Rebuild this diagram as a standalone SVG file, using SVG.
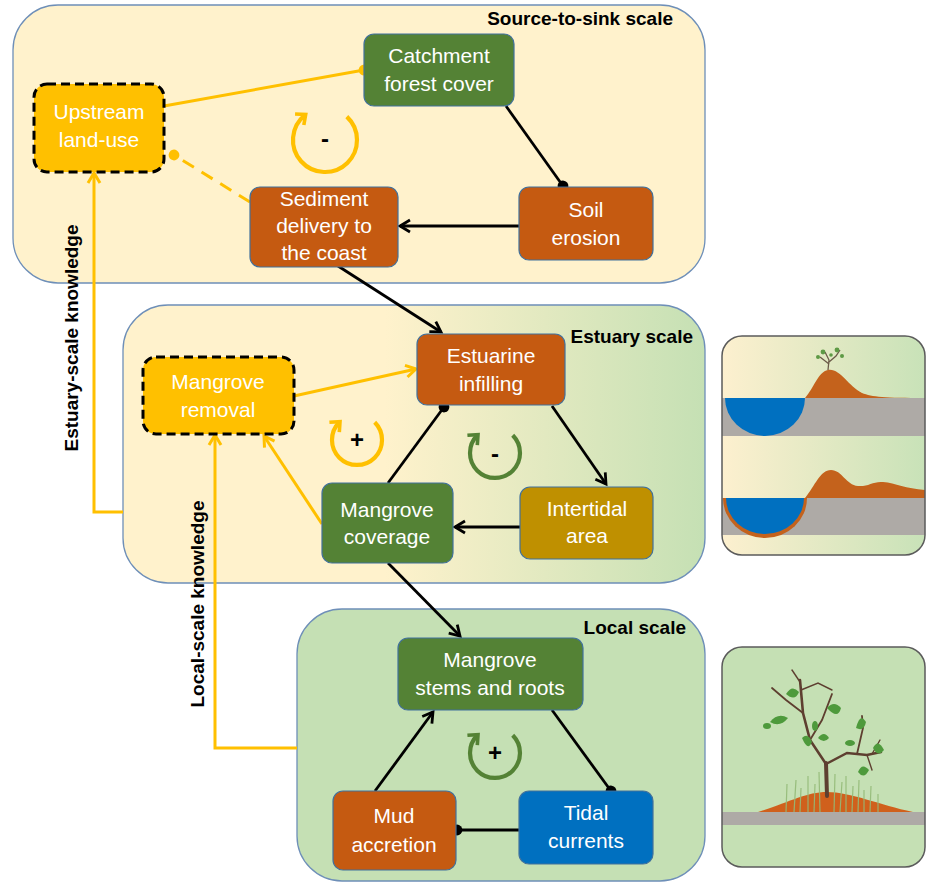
<svg xmlns="http://www.w3.org/2000/svg" width="926" height="884" viewBox="0 0 926 884">
  <defs>
    <style>
      .panel { stroke: #6E8FB8; stroke-width: 1.3; }
      .node { stroke: #41719C; stroke-width: 1.2; }
      .choice { fill: #FFC000; stroke: #000; stroke-width: 3; stroke-dasharray: 9 5; }
      .lbl { font-family: "Liberation Sans", Arial, sans-serif; font-size: 21px; fill: #fff; text-anchor: middle; }
      .ttl { font-family: "Liberation Sans", Arial, sans-serif; font-size: 19px; font-weight: bold; fill: #000; text-anchor: end; }
      .side { font-family: "Liberation Sans", Arial, sans-serif; font-size: 19px; font-weight: bold; fill: #000; text-anchor: middle; }
      .sign { font-family: "Liberation Sans", Arial, sans-serif; font-size: 24px; font-weight: bold; fill: #000; text-anchor: middle; }
      .blk { stroke: #000; stroke-width: 2.8; fill: none; }
      .yel { stroke: #FFC000; stroke-width: 3; fill: none; }
      .loopY { stroke: #FFC000; stroke-width: 4.2; fill: none; marker-end: url(#loopHeadY); }
      .loopG { stroke: #548235; stroke-width: 4.2; fill: none; marker-end: url(#loopHeadG); }
    </style>
    <marker id="arrowK" markerUnits="userSpaceOnUse" markerWidth="16" markerHeight="16" refX="11" refY="7" orient="auto" overflow="visible">
      <path d="M1,1 L11,7 L1,13" fill="none" stroke="#000" stroke-width="2.8"/>
    </marker>
    <marker id="arrowY" markerUnits="userSpaceOnUse" markerWidth="16" markerHeight="16" refX="11" refY="7" orient="auto" overflow="visible">
      <path d="M1,1 L11,7 L1,13" fill="none" stroke="#FFC000" stroke-width="3"/>
    </marker>
    <marker id="dotK" markerUnits="userSpaceOnUse" markerWidth="12" markerHeight="12" refX="6" refY="6" orient="auto" overflow="visible">
      <circle cx="6" cy="6" r="5.4" fill="#000"/>
    </marker>
    <marker id="dotY" markerUnits="userSpaceOnUse" markerWidth="12" markerHeight="12" refX="6" refY="6" orient="auto" overflow="visible">
      <circle cx="6" cy="6" r="5.4" fill="#FFC000"/>
    </marker>
    <marker id="loopHeadY" markerUnits="userSpaceOnUse" markerWidth="16" markerHeight="16" refX="8" refY="7" orient="auto" overflow="visible">
      <path d="M1,0 L9,7 L1,14" fill="none" stroke="#FFC000" stroke-width="3.6"/>
    </marker>
    <marker id="loopHeadG" markerUnits="userSpaceOnUse" markerWidth="16" markerHeight="16" refX="8" refY="7" orient="auto" overflow="visible">
      <path d="M1,0 L9,7 L1,14" fill="none" stroke="#548235" stroke-width="3.6"/>
    </marker>
    <linearGradient id="estuaryFill" x1="0" y1="0" x2="1" y2="0">
      <stop offset="0" stop-color="#FFF2CC"/>
      <stop offset="0.45" stop-color="#FFF2CC"/>
      <stop offset="1" stop-color="#C5E0B4"/>
    </linearGradient>
    <linearGradient id="sketchFill" x1="0" y1="0" x2="1" y2="0">
      <stop offset="0" stop-color="#FDF0CF"/>
      <stop offset="1" stop-color="#C8E2B8"/>
    </linearGradient>
  </defs>

  <!-- scale panels -->
  <g id="panel-source">
    <rect class="panel" x="13" y="5" width="692" height="278" rx="45" fill="#FFF2CC"/>
    <text class="ttl" x="673" y="25">Source-to-sink scale</text>
  </g>
  <g id="panel-estuary">
    <rect class="panel" x="123" y="305" width="582" height="278" rx="45" fill="url(#estuaryFill)"/>
    <text class="ttl" x="693" y="343">Estuary scale</text>
  </g>
  <g id="panel-local">
    <rect class="panel" x="297" y="609" width="408" height="272" rx="45" fill="#C5E0B4"/>
    <text class="ttl" x="686" y="634">Local scale</text>
  </g>

  <!-- connectors -->
  <g id="connectors">
    <line class="yel" x1="164" y1="106" x2="364" y2="70" marker-end="url(#dotY)"/>
    <line class="yel" x1="250" y1="202" x2="174" y2="155" stroke-dasharray="13 9" marker-end="url(#dotY)"/>
    <line class="blk" x1="506" y1="106" x2="563" y2="186" marker-end="url(#dotK)"/>
    <line class="blk" x1="519" y1="226" x2="400" y2="226" marker-end="url(#arrowK)"/>
    <line class="blk" x1="338" y1="266" x2="441" y2="332" marker-end="url(#arrowK)"/>

    <line class="yel" x1="294" y1="396" x2="416" y2="369" marker-end="url(#arrowY)"/>
    <line class="yel" x1="322" y1="524" x2="264" y2="436" marker-end="url(#arrowY)"/>
    <line class="blk" x1="388" y1="483" x2="444" y2="407" marker-end="url(#dotK)"/>
    <line class="blk" x1="552" y1="406" x2="606" y2="484" marker-end="url(#arrowK)"/>
    <line class="blk" x1="520" y1="527" x2="455" y2="527" marker-end="url(#arrowK)"/>
    <line class="blk" x1="388" y1="563" x2="460" y2="636" marker-end="url(#arrowK)"/>

    <line class="blk" x1="375" y1="791" x2="433" y2="712" marker-end="url(#arrowK)"/>
    <line class="blk" x1="552" y1="710" x2="611" y2="791" marker-end="url(#dotK)"/>
    <line class="blk" x1="519" y1="830" x2="457" y2="830" marker-end="url(#dotK)"/>

    <polyline class="yel" points="123,512 94,512 94,173" marker-end="url(#arrowY)"/>
    <polyline class="yel" points="297,748 215,748 215,435" marker-end="url(#arrowY)"/>
  </g>

  <!-- feedback loops -->
  <g id="loop-catchment">
    <path class="loopY" d="M346.8,116.6 A32,32 0 1 1 304.9,115.1"/>
    <text class="sign" x="325" y="147">-</text>
  </g>
  <g id="loop-removal">
    <path class="loopY" d="M374.7,422.3 A25,25 0 1 1 339.3,422.3"/>
    <text class="sign" x="357" y="448" font-size="22">+</text>
  </g>
  <g id="loop-infilling">
    <path class="loopG" d="M512.7,435.3 A25,25 0 1 1 477.3,435.3"/>
    <text class="sign" x="495" y="462">-</text>
  </g>
  <g id="loop-local">
    <path class="loopG" d="M512.7,735.3 A25,25 0 1 1 477.3,735.3"/>
    <text class="sign" x="495" y="761" font-size="22">+</text>
  </g>

  <!-- side labels -->
  <g id="label-estuary-knowledge">
    <text class="side" transform="translate(78,338) rotate(-90)">Estuary-scale knowledge</text>
  </g>
  <g id="label-local-knowledge">
    <text class="side" transform="translate(204,604) rotate(-90)">Local-scale knowledge</text>
  </g>

  <!-- nodes: source-to-sink -->
  <g id="node-upstream">
    <rect class="choice" x="34" y="84" width="130" height="88" rx="13"/>
    <text class="lbl" x="99" y="119">Upstream</text>
    <text class="lbl" x="99" y="147">land-use</text>
  </g>
  <g id="node-catchment">
    <rect class="node" x="364" y="34" width="150" height="72" rx="10" fill="#548235"/>
    <text class="lbl" x="439" y="63">Catchment</text>
    <text class="lbl" x="439" y="91">forest cover</text>
  </g>
  <g id="node-sediment">
    <rect class="node" x="250" y="187" width="148" height="80" rx="10" fill="#C55A11"/>
    <text class="lbl" x="324" y="206">Sediment</text>
    <text class="lbl" x="324" y="233">delivery to</text>
    <text class="lbl" x="324" y="260">the coast</text>
  </g>
  <g id="node-soil">
    <rect class="node" x="519" y="187" width="134" height="73" rx="10" fill="#C55A11"/>
    <text class="lbl" x="586" y="217">Soil</text>
    <text class="lbl" x="586" y="245">erosion</text>
  </g>

  <!-- nodes: estuary -->
  <g id="node-removal">
    <rect class="choice" x="143" y="357" width="151" height="77" rx="13"/>
    <text class="lbl" x="218" y="389">Mangrove</text>
    <text class="lbl" x="218" y="417">removal</text>
  </g>
  <g id="node-infilling">
    <rect class="node" x="417" y="334" width="148" height="71" rx="10" fill="#C55A11"/>
    <text class="lbl" x="491" y="363">Estuarine</text>
    <text class="lbl" x="491" y="391">infilling</text>
  </g>
  <g id="node-coverage">
    <rect class="node" x="322" y="483" width="131" height="80" rx="10" fill="#548235"/>
    <text class="lbl" x="387" y="517">Mangrove</text>
    <text class="lbl" x="387" y="544">coverage</text>
  </g>
  <g id="node-intertidal">
    <rect class="node" x="520" y="487" width="133" height="72" rx="10" fill="#BF9000"/>
    <text class="lbl" x="587" y="516">Intertidal</text>
    <text class="lbl" x="587" y="543">area</text>
  </g>

  <!-- nodes: local -->
  <g id="node-stems">
    <rect class="node" x="398" y="638" width="185" height="72" rx="10" fill="#548235"/>
    <text class="lbl" x="490" y="667">Mangrove</text>
    <text class="lbl" x="490" y="695">stems and roots</text>
  </g>
  <g id="node-mud">
    <rect class="node" x="333" y="791" width="123" height="79" rx="10" fill="#C55A11"/>
    <text class="lbl" x="394" y="823">Mud</text>
    <text class="lbl" x="394" y="852">accretion</text>
  </g>
  <g id="node-tidal">
    <rect class="node" x="519" y="791" width="134" height="73" rx="10" fill="#0070C0"/>
    <text class="lbl" x="586" y="820">Tidal</text>
    <text class="lbl" x="586" y="848">currents</text>
  </g>

  <!-- estuary sketch: channel before and after infilling -->
  <g id="sketch-estuary">
    <clipPath id="clipEst"><rect x="722" y="336" width="203" height="219" rx="20"/></clipPath>
    <rect x="722" y="336" width="203" height="219" rx="20" fill="url(#sketchFill)"/>
    <g clip-path="url(#clipEst)">
      <rect x="722" y="398" width="204" height="38" fill="#AEAAA6"/>
      <path d="M725,398 A40,38 0 0 0 805,398 Z" fill="#0070C0"/>
      <path d="M805,398 C814,388 818,372 828,370 C840,368 848,386 862,393 C872,397 885,398 926,398 Z" fill="#C4621C"/>
      <g stroke="#6B5A48" stroke-width="1.3" fill="none">
        <path d="M828,370 L829,360 L825,352"/>
        <path d="M829,362 L836,356 L840,350"/>
        <path d="M829,364 L820,357"/>
      </g>
      <g fill="#5E9A45">
        <circle cx="823" cy="352" r="2.4"/>
        <circle cx="837" cy="350" r="2.4"/>
        <circle cx="842" cy="356" r="2"/>
        <circle cx="818" cy="357" r="2"/>
        <circle cx="831" cy="355" r="1.8"/>
      </g>
      <rect x="722" y="498" width="204" height="37" fill="#AEAAA6"/>
      <path d="M723,498 A42,40 0 0 0 807,498 Z" fill="#C4621C"/>
      <path d="M726,498 A39,36 0 0 0 804,498 Z" fill="#0070C0"/>
      <path d="M805,498 C815,486 820,470 831,470 C842,470 846,485 858,486 C868,487 873,481 883,482 C896,483 906,489 926,490 L926,498 Z" fill="#C4621C"/>
    </g>
    <rect x="722" y="336" width="203" height="219" rx="20" fill="none" stroke="#5B5B5B" stroke-width="1.5"/>
  </g>

  <!-- local sketch: young mangrove on a mud mound -->
  <g id="sketch-local">
    <clipPath id="clipLoc"><rect x="722" y="647" width="203" height="220" rx="20"/></clipPath>
    <rect x="722" y="647" width="203" height="220" rx="20" fill="#C5E0B4"/>
    <g clip-path="url(#clipLoc)">
      <rect x="722" y="812" width="204" height="13" fill="#AEAAA6"/>
      <path d="M758,812 C790,802 806,792 827,792 C850,792 880,805 913,812 Z" fill="#D0601C"/>
      <g stroke="#94BA78" stroke-width="1.2" opacity="0.9">
        <line x1="786" y1="812" x2="787" y2="784"/>
        <line x1="794" y1="812" x2="796" y2="780"/>
        <line x1="800" y1="812" x2="801" y2="788"/>
        <line x1="808" y1="812" x2="808" y2="776"/>
        <line x1="814" y1="812" x2="815" y2="784"/>
        <line x1="820" y1="812" x2="819" y2="772"/>
        <line x1="834" y1="812" x2="835" y2="774"/>
        <line x1="840" y1="812" x2="842" y2="782"/>
        <line x1="846" y1="812" x2="846" y2="776"/>
        <line x1="852" y1="812" x2="853" y2="786"/>
        <line x1="858" y1="812" x2="859" y2="780"/>
        <line x1="864" y1="812" x2="864" y2="790"/>
        <line x1="870" y1="812" x2="871" y2="786"/>
        <line x1="878" y1="812" x2="878" y2="794"/>
      </g>
      <g stroke="#5E3F30" fill="none" stroke-linecap="round">
        <path d="M827,796 L826,763" stroke-width="4"/>
        <path d="M826,764 L810,740 L803,713 L800,680" stroke-width="2.6"/>
        <path d="M803,713 L786,700 L772,688" stroke-width="1.8"/>
        <path d="M810,740 L822,720 L832,694" stroke-width="1.8"/>
        <path d="M826,764 L847,753 L867,755 L881,752" stroke-width="2.4"/>
        <path d="M857,754 L863,728 L862,716" stroke-width="1.8"/>
        <path d="M800,682 L792,670" stroke-width="1.4"/>
        <path d="M801,690 L818,683 L832,690" stroke-width="1.4"/>
        <path d="M867,755 L872,770" stroke-width="1.4"/>
        <path d="M872,754 L880,740" stroke-width="1.4"/>
      </g>
      <g fill="#4E9A3C">
        <path d="M786,694 Q792,684 799,692 Q795,702 786,694 Z"/>
        <path d="M770,722 Q778,712 788,718 Q780,728 770,722 Z"/>
        <ellipse cx="767" cy="726" rx="4" ry="3"/>
        <path d="M802,738 Q808,732 812,742 Q808,752 802,738 Z"/>
        <path d="M818,738 Q824,730 829,738 Q824,744 818,738 Z"/>
        <path d="M827,708 Q834,700 841,708 Q838,720 827,708 Z"/>
        <path d="M856,728 Q860,712 866,722 Q864,732 856,728 Z"/>
        <path d="M873,748 Q878,738 884,750 Q878,758 873,748 Z"/>
        <path d="M858,772 Q862,762 869,770 Q864,780 858,772 Z"/>
        <ellipse cx="850" cy="743" rx="5" ry="3"/>
        <ellipse cx="815" cy="726" rx="3" ry="5"/>
      </g>
    </g>
    <rect x="722" y="647" width="203" height="220" rx="20" fill="none" stroke="#5B5B5B" stroke-width="1.5"/>
  </g>
</svg>
